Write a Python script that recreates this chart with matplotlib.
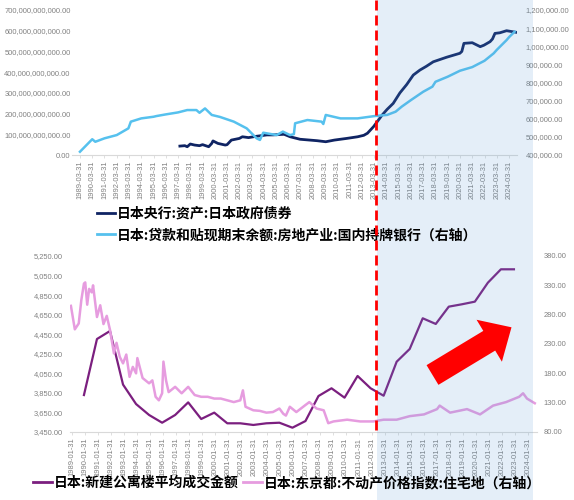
import numpy as np
import matplotlib
matplotlib.use("Agg")
import matplotlib.pyplot as plt
import matplotlib.transforms as mtransforms
from matplotlib.lines import Line2D
from matplotlib.patches import Rectangle, FancyArrow
from matplotlib.ticker import FuncFormatter, FixedLocator

plt.rcParams["font.family"] = ["Liberation Sans", "Noto Sans CJK SC", "DejaVu Sans"]

# ── Data ────────────────────────────────────────────────────────────────────
# top: BOJ JGB holdings (left axis, billions -> x1e9)
jgb_t = [1997.4, 1997.8, 1998.0, 1998.25, 1998.6, 1999.0, 1999.25, 1999.75, 2000.0,
         2000.1, 2000.5, 2001.1, 2001.25, 2001.6, 2002.25, 2002.5, 2003.0, 2003.6,
         2004.0, 2004.5, 2005.0, 2005.9, 2006.4, 2007.2, 2008.0, 2008.6, 2009.3,
         2010.0, 2010.5, 2011.0, 2011.9, 2012.4, 2012.7, 2013.2, 2013.9, 2014.3,
         2014.8, 2015.35, 2015.9, 2016.44, 2016.98, 2017.5, 2018.07, 2019.16,
         2020.24, 2020.4, 2020.57, 2021.25, 2021.9, 2022.2, 2022.7, 2022.9,
         2023.1, 2023.5, 2024.05, 2024.87]
jgb_v = [43, 45, 40, 53, 48, 45, 50, 40, 56,
         68, 56, 48, 50, 72, 80, 88, 84, 90,
         93, 97, 97, 100, 88, 76, 72, 69, 64,
         72, 76, 80, 88, 95, 105, 137, 193, 220,
         249, 300, 340, 386, 410, 428, 450, 472,
         491, 500, 539, 542, 523, 530, 547, 560,
         587, 590, 600, 592]

# top: real-estate loans, domestic licensed banks (right axis, thousands)
loan_t = [1989.25, 1990.25, 1990.5, 1991.25, 1992.25, 1993.2, 1993.4, 1994.25,
          1995.25, 1995.5, 1996.25, 1997.25, 1998.0, 1998.75, 1999.0, 1999.45,
          2000.0, 2000.67, 2001.8, 2002.85, 2003.66, 2003.93, 2004.2, 2005.3,
          2005.8, 2006.38, 2006.7, 2006.8, 2007.8, 2008.96, 2009.1, 2009.3,
          2010.5, 2011.9, 2013.3, 2014.3, 2015.0, 2015.5, 2016.25, 2017.25,
          2018.0, 2018.25, 2019.25, 2020.25, 2021.25, 2022.25, 2023.0, 2023.25,
          2024.05, 2024.25, 2024.7]
loan_v = [418, 487, 473, 492, 510, 547, 584, 602,
          611, 615, 624, 635, 648, 648, 633, 657,
          621, 610, 584, 547, 492, 483, 523, 510,
          529, 510, 515, 575, 593, 584, 571, 621,
          602, 602, 615, 621, 639, 667, 703, 749,
          777, 804, 832, 865, 885, 920, 961, 980,
          1034, 1050, 1080]

# bottom: average price of new condominiums (left axis, annual)
condo_years = list(range(1990, 2024))
condo_v = [3828, 4401, 4483, 3935, 3736, 3624, 3545, 3624, 3753, 3583,
           3648, 3539, 3539, 3522, 3539, 3545, 3494, 3562, 3818, 3897,
           3801, 4023, 3897, 3821, 4169, 4299, 4613, 4555, 4732, 4756,
           4783, 4977, 5114, 5114]

# bottom: Tokyo residential land price index (right axis)
land_t = [1989.0, 1989.3, 1989.6, 1989.8, 1990.0, 1990.1, 1990.25, 1990.4, 1990.6,
          1990.7, 1990.9, 1991.0, 1991.25, 1991.5, 1991.75, 1992.0, 1992.3, 1992.5,
          1992.75, 1993.0, 1993.25, 1993.5, 1993.75, 1994.0, 1994.1, 1994.5, 1995.0,
          1995.25, 1995.5, 1995.75, 1996.0, 1996.1, 1996.3, 1996.5, 1997.0, 1997.5,
          1998.0, 1998.5, 1999.0, 1999.5, 2000.0, 2000.5, 2001.0, 2001.5, 2002.0,
          2002.2, 2002.4, 2003.0, 2003.5, 2004.0, 2004.5, 2005.0, 2005.3, 2005.5,
          2005.8, 2006.3, 2007.0, 2007.3, 2007.85, 2008.4, 2008.75, 2009.15, 2010.2,
          2011.2, 2012.2, 2013.0, 2014.0, 2015.0, 2016.1, 2017.1, 2017.3, 2018.1,
          2019.4, 2020.4, 2021.4, 2022.4, 2023.4, 2023.7, 2024.0, 2024.6]
land_v = [295, 255, 265, 305, 333, 335, 297, 324, 318,
          330, 294, 276, 296, 264, 278, 254, 214, 232,
          208, 197, 212, 174, 191, 180, 206, 172, 163,
          168, 140, 134, 146, 200, 168, 148, 157, 146,
          157, 143, 140, 140, 137, 137, 134, 131, 134,
          151, 123, 117, 116, 113, 114, 120, 111, 108,
          123, 114, 126, 131, 120, 117, 95, 98, 101,
          98, 98, 101, 101, 107, 110, 119, 125, 113,
          119, 110, 125, 131, 140, 146, 137, 129]

top_years = list(range(1989, 2025))
bot_years = list(range(1989, 2025))

NAVY = "#0F2463"
LIGHT = "#56C1EE"
PURPLE = "#7B1F7F"
PINK = "#E69CDF"
GRAY = "#808080"
AXIS = "#D9D9D9"

# ── Figure in pixel units ───────────────────────────────────────────────────
W, H = 574, 500
fig = plt.figure(figsize=(W / 100, H / 100), dpi=100)
px = mtransforms.Affine2D().scale(1 / W, -1 / H).translate(0, 1) + fig.transFigure


def box(l, t, r, b):
    return [l / W, 1 - b / H, (r - l) / W, (b - t) / H]


def style(ax, axr, lpad, rpad):
    for a in (ax, axr):
        for s in ("top", "left", "right"):
            a.spines[s].set_visible(False)
        a.spines["bottom"].set_color(AXIS)
        a.tick_params(axis="y", length=0, labelsize=5.4, labelcolor=GRAY)
        a.patch.set_visible(False)
    ax.spines["bottom"].set_visible(True)
    axr.spines["bottom"].set_visible(False)
    ax.tick_params(axis="y", pad=lpad)
    axr.tick_params(axis="y", pad=rpad)
    ax.tick_params(axis="x", length=2.5, width=0.6, color=AXIS, pad=1.5,
                   labelsize=5.4, labelcolor=GRAY, labelrotation=90)


money = FuncFormatter(lambda v, p: f"{v:,.2f}")

# ── Top panel ───────────────────────────────────────────────────────────────
ax1 = fig.add_axes(box(72, 10, 517, 155))
ax1r = ax1.twinx()
ax1.plot(jgb_t, np.array(jgb_v) * 1e9, color=NAVY, lw=2.0)
ax1r.plot(loan_t, np.array(loan_v) * 1e3, color=LIGHT, lw=1.8)
ax1.set_xlim(1988.6, 2024.9)
ax1.set_ylim(0, 7e11)
ax1.yaxis.set_major_locator(FixedLocator(np.arange(0, 7.01e11, 1e11)))
ax1.yaxis.set_major_formatter(money)
ax1r.set_ylim(4e5, 1.2e6)
ax1r.yaxis.set_major_locator(FixedLocator(np.arange(4e5, 1.2001e6, 1e5)))
ax1r.yaxis.set_major_formatter(money)
ax1.set_xticks([y + 0.25 for y in top_years])
ax1.set_xticklabels([f"{y}-03-31" for y in top_years])
style(ax1, ax1r, 1, 6)

# ── Bottom panel ────────────────────────────────────────────────────────────
ax2 = fig.add_axes(box(70, 256, 537, 432))
ax2r = ax2.twinx()
ax2.plot(condo_years, condo_v, color=PURPLE, lw=1.6)
ax2r.plot(land_t, land_v, color=PINK, lw=1.8)
ax2.set_xlim(1988.93, 2024.77)
ax2.set_ylim(3450, 5250)
ax2.yaxis.set_major_locator(FixedLocator(np.arange(3450, 5251, 200)))
ax2.yaxis.set_major_formatter(money)
ax2r.set_ylim(80, 380)
ax2r.yaxis.set_major_locator(FixedLocator(np.arange(80, 381, 50)))
ax2r.yaxis.set_major_formatter(money)
ax2.set_xticks([y + 1 / 12 for y in bot_years])
ax2.set_xticklabels([f"{y}-01-31" for y in bot_years])
style(ax2, ax2r, 5, 4.5)

# ── Shaded period, red divider, arrow ───────────────────────────────────────
fig.add_artist(Rectangle((377, 0), 156, H, transform=px, facecolor="#5B9BD5",
                         edgecolor="none", alpha=0.16, zorder=4))
fig.add_artist(Line2D([376, 376], [0, 432], transform=px, color="#FF0000",
                      lw=2.0, dashes=(3.6, 1.8), zorder=6))
fig.add_artist(FancyArrow(432.5, 375, 79, -47.7, width=23, head_width=49,
                          head_length=26, length_includes_head=True,
                          transform=px, facecolor="#FF0000", edgecolor="none",
                          zorder=7))

# ── Legends ─────────────────────────────────────────────────────────────────
leg_font = {"family": ["Noto Sans CJK SC", "DejaVu Sans"], "weight": "bold", "size": 10}
h_top = [Line2D([], [], color=NAVY, lw=2.0), Line2D([], [], color=LIGHT, lw=2.0)]
fig.legend(h_top, ["日本央行:资产:日本政府债券",
                   "日本:贷款和贴现期末余额:房地产业:国内持牌银行（右轴）"],
           loc="center left", bbox_to_anchor=(97 / W, 1 - 224.5 / H),
           frameon=False, prop=leg_font, handlelength=1.3, handletextpad=0.15,
           borderpad=0, borderaxespad=0, labelspacing=0.55)

h_bot = [Line2D([], [], color=PURPLE, lw=2.0), Line2D([], [], color=PINK, lw=2.0)]
fig.legend(h_bot, ["日本:新建公寓楼平均成交金额",
                   "日本:东京都:不动产价格指数:住宅地（右轴）"],
           loc="center left", bbox_to_anchor=(33 / W, 1 - 483 / H), ncol=2,
           frameon=False, prop=leg_font, handlelength=1.35, handletextpad=0.15,
           columnspacing=0.3, borderpad=0, borderaxespad=0)

fig.savefig("out.png", dpi=100)
plt.close(fig)
